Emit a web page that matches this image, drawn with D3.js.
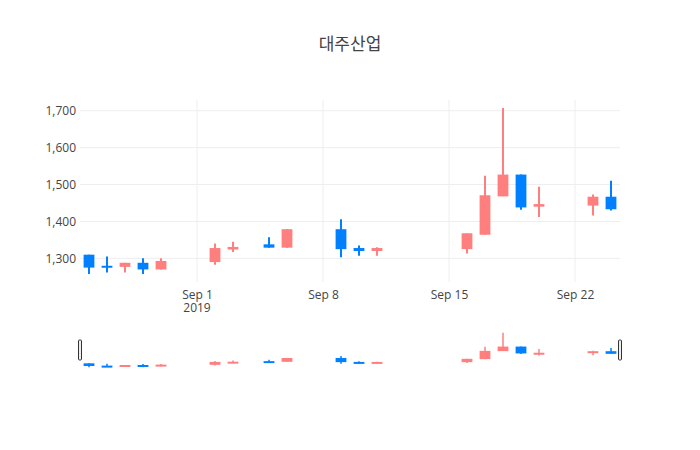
<!DOCTYPE html>
<html>
<head>
<meta charset="utf-8">
<script src="https://cdn.jsdelivr.net/npm/d3@7"></script>
<style>
  body { margin: 0; background: #fff; }
  text { font-family: "Open Sans", "Noto Sans CJK KR", sans-serif; }
</style>
</head>
<body>
<div id="chart"></div>
<script>
const dates = ["2019-08-26", "2019-08-27", "2019-08-28", "2019-08-29", "2019-08-30",
    "2019-09-02", "2019-09-03", "2019-09-05", "2019-09-06", "2019-09-09",
    "2019-09-10", "2019-09-11", "2019-09-16", "2019-09-17", "2019-09-18",
    "2019-09-19", "2019-09-20", "2019-09-23", "2019-09-24"];
const opens  = [1310, 1280, 1277, 1288, 1270, 1290, 1324, 1338, 1329, 1379, 1328, 1320, 1325, 1364, 1468, 1527, 1440, 1443, 1467];
const highs  = [1310, 1305, 1288, 1300, 1300, 1340, 1345, 1357, 1379, 1406, 1335, 1330, 1368, 1524, 1707, 1527, 1494, 1473, 1510];
const lows   = [1258, 1262, 1262, 1258, 1270, 1283, 1317, 1329, 1329, 1303, 1307, 1307, 1313, 1364, 1468, 1432, 1412, 1416, 1430];
const closes = [1275, 1275, 1288, 1270, 1293, 1328, 1331, 1329, 1379, 1325, 1320, 1328, 1368, 1471, 1527, 1438, 1447, 1467, 1433];
const yTicks = [1300, 1400, 1500, 1600, 1700];
const xTicks = ["2019-09-01", "2019-09-08", "2019-09-15", "2019-09-22"];

const upColor = "#ff7f7f", downColor = "#0080ff";
const W = 700, H = 450;
const mLeft = 80, mRight = 620, mTop = 100, mBottom = 282;

const parse = d3.timeParse("%Y-%m-%d");
const data = dates.map((d, i) => ({
    date: parse(d), open: opens[i], high: highs[i], low: lows[i], close: closes[i]
}));

const svg = d3.select("#chart").append("svg")
    .attr("width", W)
    .attr("height", H);

const x = d3.scaleTime()
    .domain([d3.timeHour.offset(data[0].date, -12), d3.timeHour.offset(data[data.length - 1].date, 12)])
    .range([mLeft, mRight]);

const y = d3.scaleLinear()
    .domain([1236, 1729])
    .range([mBottom, mTop]);

// grid
svg.append("g").selectAll("line")
    .data(yTicks)
    .enter().append("line")
    .attr("x1", mLeft).attr("x2", mRight)
    .attr("y1", d => y(d)).attr("y2", d => y(d))
    .attr("stroke", "#eee");

svg.append("g").selectAll("line")
    .data(xTicks)
    .enter().append("line")
    .attr("x1", d => x(parse(d))).attr("x2", d => x(parse(d)))
    .attr("y1", mTop).attr("y2", mBottom)
    .attr("stroke", "#eee");

// y axis labels
const yAxis = svg.append("g")
    .attr("transform", `translate(${mLeft}, 0)`)
    .call(d3.axisLeft(y).tickValues(yTicks).tickSize(0).tickPadding(4));
yAxis.select(".domain").remove();
yAxis.selectAll("text").attr("fill", "#444").style("font-size", "12px");

// x axis labels
const xAxis = svg.append("g")
    .attr("transform", `translate(0, ${mBottom})`)
    .call(d3.axisBottom(x).tickValues(xTicks.map(parse)).tickSize(0).tickPadding(8)
        .tickFormat(d3.timeFormat("%b %-d")));
xAxis.select(".domain").remove();
xAxis.selectAll("text").attr("fill", "#444").style("font-size", "12px");

svg.append("text")
    .attr("x", x(parse("2019-09-01")))
    .attr("y", mBottom + 30)
    .attr("text-anchor", "middle")
    .attr("fill", "#444")
    .style("font-size", "12px")
    .text("2019");

const dayW = x(parse("2019-08-27")) - x(parse("2019-08-26"));

function drawCandles(g, yS, bw, lw) {
    const c = g.selectAll("g.candle")
        .data(data)
        .enter().append("g")
        .attr("class", "candle");
    c.append("line")
        .attr("x1", d => x(d.date)).attr("x2", d => x(d.date))
        .attr("y1", d => yS(d.high)).attr("y2", d => yS(d.low))
        .attr("stroke", d => d.close >= d.open ? upColor : downColor)
        .attr("stroke-width", lw);
    c.append("rect")
        .attr("x", d => x(d.date) - bw / 2)
        .attr("width", bw)
        .attr("y", d => yS(Math.max(d.open, d.close)))
        .attr("height", d => Math.max(2, Math.abs(yS(d.open) - yS(d.close))))
        .attr("fill", d => d.close >= d.open ? upColor : downColor);
}

drawCandles(svg.append("g"), y, dayW * 0.6, 2);

// range slider
const ys = d3.scaleLinear().domain([1236, 1729]).range([369, 331]);
drawCandles(svg.append("g"), ys, dayW * 0.6, 1.5);

[mLeft, mRight].forEach(px => {
    svg.append("rect")
        .attr("x", px - 1.5)
        .attr("y", 340)
        .attr("width", 3)
        .attr("height", 20)
        .attr("rx", 1)
        .attr("fill", "#eee")
        .attr("stroke", "#333")
        .attr("stroke-width", 1);
});

svg.append("text")
    .attr("x", W / 2)
    .attr("y", 50)
    .attr("text-anchor", "middle")
    .attr("fill", "#444")
    .style("font-size", "17px")
    .text("대주산업");
</script>
</body>
</html>
